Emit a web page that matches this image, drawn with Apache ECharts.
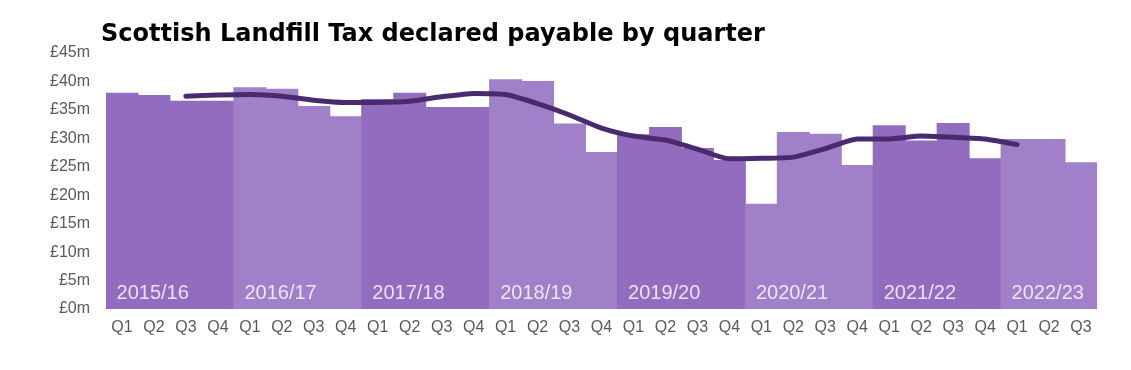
<!DOCTYPE html>
<html>
<head>
<meta charset="utf-8">
<script src="https://cdn.jsdelivr.net/npm/echarts@6/dist/echarts.min.js"></script>
<style>
html,body{margin:0;padding:0;background:#fff;}
#chart{width:1131px;height:370px;}
</style>
</head>
<body>
<div id="chart"></div>
<script>
var years = ['2015/16','2016/17','2017/18','2018/19','2019/20','2020/21','2021/22','2022/23'];
var quarters = ['Q1','Q2','Q3','Q4'];
var quarterCount = [4,4,4,4,4,4,4,3];
// Tax declared payable (£m) per quarter
var payable = [
  38.0, 37.6, 36.6, 36.6,
  39.0, 38.7, 35.7, 33.9,
  36.9, 38.0, 35.5, 35.5,
  40.4, 40.1, 32.6, 27.6,
  30.7, 32.0, 28.3, 26.2,
  18.5, 31.1, 30.8, 25.3,
  32.3, 29.6, 32.7, 26.5,
  29.9, 29.9, 25.8
];
// Rolling average (£m); null where not shown
var rolling = [
  null, null, 37.4, 37.6,
  37.7, 37.4, 36.7, 36.3,
  36.3, 36.5, 37.3, 37.9,
  37.7, 36.1, 34.1, 31.8,
  30.4, 29.7, 28.1, 26.4,
  26.5, 26.7, 28.2, 29.9,
  29.9, 30.4, 30.2, 29.9,
  28.9, null, null
];
var yTicks = [0,5,10,15,20,25,30,35,40,45];
var yearLabelY = 2.8;

var cats = [], yearIdx = [], yearLabelPts = [];
years.forEach(function(y, i){
  for (var q = 0; q < quarterCount[i]; q++) {
    cats.push(quarters[q]);
    yearIdx.push(i);
  }
});
var start = 0;
years.forEach(function(y, i){
  yearLabelPts.push({value:[start + 0.96, yearLabelY], name:y});
  start += quarterCount[i];
});

var dark = '#926dbf', light = '#9f80c9';
var barData = payable.map(function(v, i){
  var c = yearIdx[i] % 2 === 0 ? dark : light;
  return {value: v, itemStyle: {color: c}};
});

var font = 'Liberation Sans, Arial, sans-serif';
var chart = echarts.init(document.getElementById('chart'), null, {renderer:'canvas'});
chart.setOption({
  animation: false,
  backgroundColor: '#fff',
  title: {
    text: 'Scottish Landfill Tax declared payable by quarter',
    left: 96, top: 18,
    textStyle: {fontFamily: 'DejaVu Sans', fontWeight: 'bold', fontSize: 24, color: '#000'}
  },
  grid: {left: 106, right: 34, top: 53, bottom: 61, containLabel: false},
  xAxis: [{
    type: 'category', data: cats, boundaryGap: true,
    axisLine: {show: false}, axisTick: {show: false},
    axisLabel: {color: '#595959', fontSize: 16, fontFamily: font, margin: 11, interval: 0}
  }, {
    type: 'value', min: -0.5, max: cats.length - 0.5, show: false
  }],
  yAxis: {
    type: 'value', min: yTicks[0], max: yTicks[yTicks.length-1], interval: 5,
    splitLine: {show: false}, axisLine: {show: false}, axisTick: {show: false},
    axisLabel: {color: '#595959', fontSize: 16, fontFamily: font, margin: 16,
      formatter: function(v){ return '£' + v + 'm'; }}
  },
  series: [
    {type: 'bar', data: barData, barWidth: 33, barGap: '-100%', z: 1},
    {type: 'line', data: rolling, showSymbol: false, symbol: 'none', smooth: 0.2, connectNulls: false,
      lineStyle: {color: '#4a2a6e', width: 5, cap: 'round', join: 'round'}, z: 3},
    {type: 'scatter', xAxisIndex: 1, data: yearLabelPts, symbolSize: 0, z: 4, silent: true,
      label: {show: true, position: 'inside', formatter: function(p){ return p.name; },
        color: '#fff', fontSize: 20, fontFamily: font}}
  ]
});
</script>
</body>
</html>
